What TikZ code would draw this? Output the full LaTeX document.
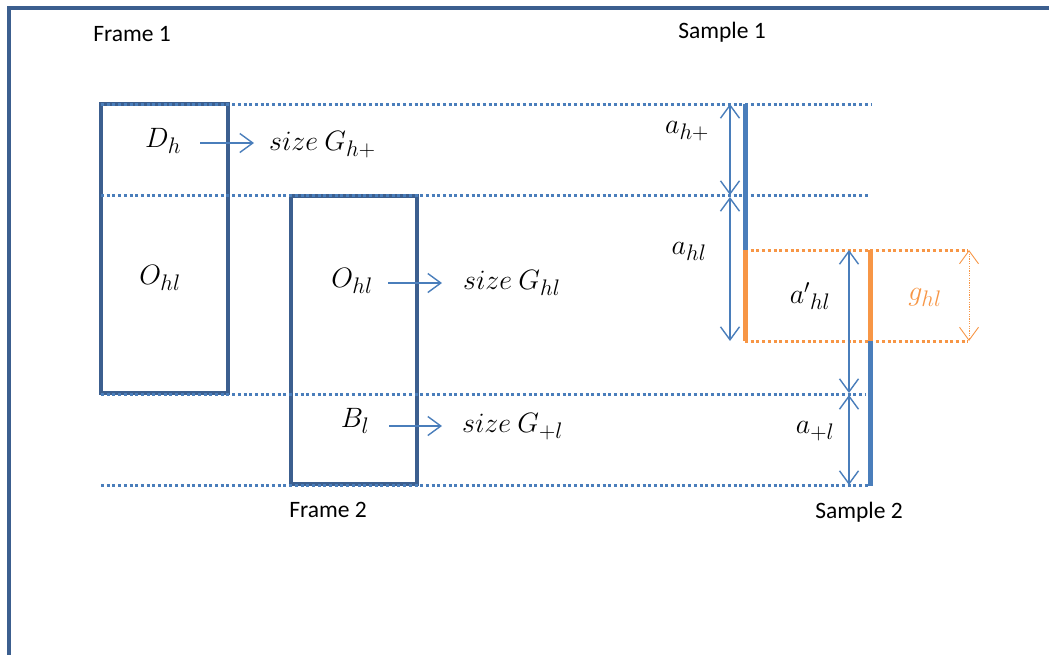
\RequirePackage{fix-cm}
\documentclass[tikz,border=0pt]{standalone}
\usepackage{fontspec}
\setmainfont{Carlito}
\usetikzlibrary{arrows.meta}
\newcommand\sbs[1]{_{\mbox{\fontsize{22.5}{24}\selectfont$#1$}}}
\definecolor{frameblue}{HTML}{3C5F8F}
\definecolor{lineblue}{HTML}{4A7EBB}
\definecolor{orangeline}{HTML}{F79646}
\begin{document}
\begin{tikzpicture}[x=1pt,y=-1pt,
  framebox/.style={draw=frameblue,line width=4pt,rectangle,inner sep=0pt},
  guide/.style={draw=lineblue,line width=3pt,dash pattern=on 3pt off 2.7pt},
  oguide/.style={draw=orangeline,line width=3pt,dash pattern=on 3pt off 2.7pt},
  sampleb/.style={draw=lineblue,line width=5pt},
  sampleo/.style={draw=orangeline,line width=5pt},
  vtip/.tip={Straight Barb[length=13pt,width=19pt]},
  dimarrow/.style={draw=lineblue,line width=1.4pt,{vtip}-{vtip}},
  maparrow/.style={draw=lineblue,line width=1.4pt,-{vtip}},
  garrow/.style={draw=orangeline,line width=0.9pt,dash pattern=on 1.2pt off 1.2pt,{vtip}-{vtip}},
  lbl/.style={font=\fontsize{23.5}{27}\selectfont,inner sep=0pt},
  mth/.style={font=\fontsize{28}{32}\selectfont,inner sep=0pt}]
\useasboundingbox (0,0) rectangle (1049,654);
\clip (0,0) rectangle (1049,654);
% outer frame
\coordinate (fbl) at (9,700);
\coordinate (ftl) at (9,8);
\coordinate (ftr) at (1100,8);
\draw[draw=frameblue,line width=4pt] (fbl) -- (ftl) -- (ftr);
% labels
\node[lbl] (frame1) at (132,34) {Frame 1};
\node[lbl] (sample1) at (722,32) {Sample 1};
\node[lbl] (frame2) at (328,510) {Frame 2};
\node[lbl] (sample2) at (859,512) {Sample 2};
% boxes
\node[framebox,minimum width=127pt,minimum height=289pt] (box1) at (164.5,248.5) {};
\node[framebox,minimum width=126pt,minimum height=288pt] (box2) at (354,340) {};
% guide lines
\coordinate (g1a) at (101,104); \coordinate (g1b) at (872,104);
\coordinate (g2a) at (101,195); \coordinate (g2b) at (868,195);
\coordinate (g3a) at (101,394); \coordinate (g3b) at (866,394);
\coordinate (g4a) at (101,485); \coordinate (g4b) at (868,485);
\draw[guide] (g1a) -- (g1b);
\draw[guide] (g2a) -- (g2b);
\draw[guide] (g3a) -- (g3b);
\draw[guide] (g4a) -- (g4b);
% samples
\coordinate (s1t) at (745,104); \coordinate (s1m) at (745,250); \coordinate (s1b) at (745,341);
\coordinate (s2t) at (870,250); \coordinate (s2m) at (870,341); \coordinate (s2b) at (870,486);
\coordinate (o1a) at (745,250); \coordinate (o1b) at (968,250);
\coordinate (o2a) at (745,341); \coordinate (o2b) at (968,341);
\draw[oguide] (o1a) -- (o1b);
\draw[oguide] (o2a) -- (o2b);
\draw[sampleb] (s1t) -- (s1m);
\draw[sampleo] (s1m) -- (s1b);
\draw[sampleo] (s2t) -- (s2m);
\draw[sampleb] (s2m) -- (s2b);
% dimension arrows
\coordinate (d1t) at (730,104); \coordinate (d1b) at (730,195);
\coordinate (d2t) at (730,197); \coordinate (d2b) at (730,341);
\coordinate (d3t) at (849,250); \coordinate (d3b) at (849,393);
\coordinate (d4t) at (849,395); \coordinate (d4b) at (849,485);
\coordinate (d5t) at (969,250); \coordinate (d5b) at (969,341);
\draw[dimarrow] (d1t) -- (d1b);
\draw[dimarrow] (d2t) -- (d2b);
\draw[dimarrow] (d3t) -- (d3b);
\draw[dimarrow] (d4t) -- (d4b);
\draw[garrow] (d5t) -- (d5b);
% dimension labels
\node[mth] (ahp) at (687,131) {$a\sbs{h+}$};
\node[mth] (ahl) at (689,251) {$a\sbs{hl}$};
\node[mth] (aphl) at (810,296) {${a'}\sbs{hl}$};
\node[mth,text=orangeline] (ghl) at (925,297) {$g\sbs{hl}$};
\node[mth] (apl) at (815,431) {$a\sbs{+l}$};
% content of boxes
\node[mth] (dh) at (163,141) {$D\sbs{h}$};
\node[mth,anchor=west] (gh) at (269,145) {$size\ G\sbs{h+}$};
\node[mth] (ohl1) at (160,278) {$O\sbs{hl}$};
\node[mth] (ohl2) at (352,281) {$O\sbs{hl}$};
\node[mth,anchor=west] (ghl2) at (463,283) {$size\ G\sbs{hl}$};
\node[mth] (bl) at (355,421) {$B\sbs{l}$};
\node[mth,anchor=west] (gpl) at (462,427) {$size\ G\sbs{+l}$};
\coordinate (m1a) at (200,143); \coordinate (m1b) at (254,143);
\coordinate (m2a) at (388,283); \coordinate (m2b) at (442,283);
\coordinate (m3a) at (389,426); \coordinate (m3b) at (442,426);
\draw[maparrow] (m1a) -- (m1b);
\draw[maparrow] (m2a) -- (m2b);
\draw[maparrow] (m3a) -- (m3b);
\end{tikzpicture}
\end{document}
